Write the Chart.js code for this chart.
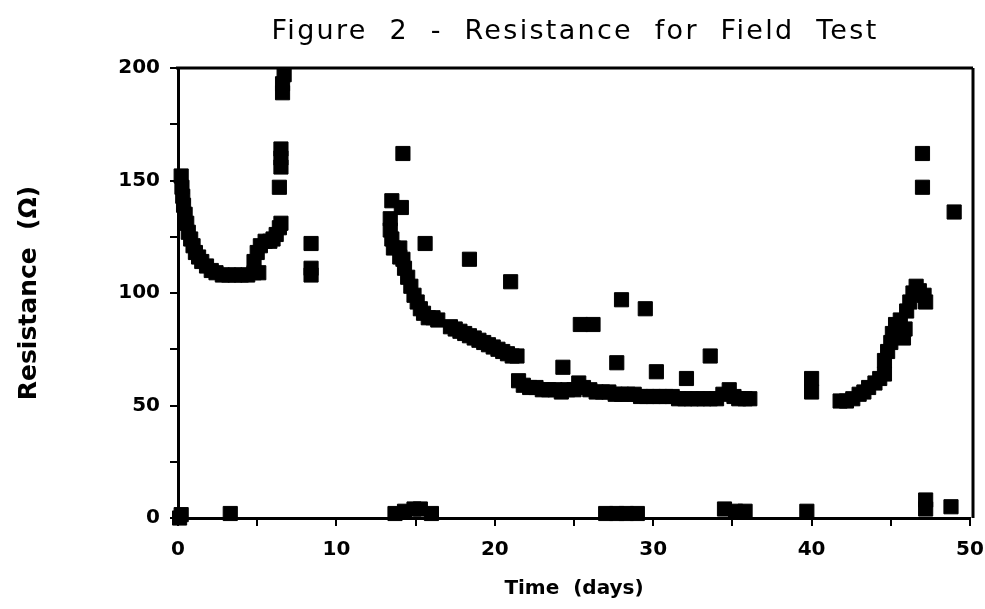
<!DOCTYPE html>
<html><head><meta charset="utf-8">
<script src="https://cdn.jsdelivr.net/npm/chart.js@4.4.1/dist/chart.umd.min.js"></script>
<style>html,body{margin:0;padding:0;background:#fff}#wrap{width:985px;height:609px}</style>
</head><body><div id="wrap"><canvas id="c" width="985" height="609"></canvas></div>
<script>
const chartTitle = 'Figure  2  -  Resistance  for  Field  Test';
const xTitle = 'Time  (days)';
const yTitle = 'Resistance  (\u03A9)';
const xTickValues = [0, 10, 20, 30, 40, 50];
const yTickValues = [0, 50, 100, 150, 200];

// Time (days) and resistance (ohm)
const days = [
  0.1, 0.2,
  0.2, 0.25, 0.3, 0.35, 0.45, 0.55, 0.65, 0.8, 0.95, 1.1, 1.3, 1.5, 1.8, 2.1, 2.4, 2.8, 3.2, 3.6, 4.0, 4.4, 4.8, 5.1,
  3.3,
  4.8, 5.0, 5.2, 5.5, 5.8, 6.0, 6.2, 6.4, 6.5,
  6.4, 6.5, 6.5, 6.5, 6.6, 6.6, 6.7,
  8.4, 8.4, 8.4,
  14.2, 13.5, 14.1, 13.4, 13.4, 13.5, 13.6, 14.0, 14.0,
  14.2, 14.3, 14.5, 14.7, 14.9, 15.1, 15.3, 15.5, 15.8, 16.1, 16.4,
  15.6, 18.4, 21.0,
  17.2, 17.5, 17.8, 18.1, 18.4, 18.7, 19.0, 19.3, 19.6, 19.9, 20.2, 20.5, 20.8, 21.1, 21.4,
  13.7, 14.3, 14.9, 15.3, 16.0,
  21.5, 21.8, 22.2, 22.6, 23.0, 23.4, 23.8, 24.2, 24.6, 25.0, 25.3, 25.6, 26.0, 26.4, 26.8, 27.2, 27.6, 28.0, 28.4, 28.8,
  29.2, 29.6, 30.0, 30.4, 30.8, 31.2, 31.6, 32.0, 32.4, 32.8, 33.2, 33.6, 34.0, 34.4, 34.8, 35.1, 35.4, 35.8, 36.1,
  24.3, 25.4, 26.2, 28.0, 29.5, 27.7, 30.2, 32.1, 33.6,
  27.0, 27.7, 28.3, 29.0, 34.5, 35.2, 35.8, 39.7, 47.2, 47.2, 48.8,
  40.0, 40.0,
  41.8, 42.2, 42.6, 43.0, 43.3, 43.6, 44.0, 44.3, 44.6,
  44.6, 44.8, 45.0, 45.1, 45.3, 45.6, 45.9, 45.8,
  46.0, 46.2, 46.4, 46.6, 46.8, 47.1, 47.2,
  47.0, 47.0, 49.0
];
const ohms = [
  0, 1.5,
  152, 147, 143, 139, 135, 131, 127, 124, 121, 118, 116, 114, 112, 110, 109, 108, 108, 108, 108, 108, 109, 109,
  2,
  114, 118, 121, 123, 123, 124, 126, 129, 131,
  147, 156, 160, 164, 189, 193, 197,
  122, 111, 108,
  162, 141, 138, 133, 128, 124, 120, 120, 116,
  115, 111, 107, 103, 99, 96, 93, 91, 89, 89, 88,
  122, 115, 105,
  85, 84, 83, 82, 81, 80, 79, 78, 77, 76, 75, 74, 73, 72, 72,
  2, 3, 4, 4, 2,
  61, 59, 58, 58, 57, 57, 57, 56, 57, 57, 60, 58, 57, 56, 56, 56, 55, 55, 55, 55,
  54, 54, 54, 54, 54, 54, 53, 53, 53, 53, 53, 53, 53, 55, 57, 54, 53, 53, 53,
  67, 86, 86, 97, 93, 69, 65, 62, 72,
  2, 2, 2, 2, 4, 3, 3, 3, 8, 4, 5,
  62, 56,
  52, 52, 53, 55, 56, 58, 60, 62, 64,
  70, 74, 78, 82, 86, 88, 84, 80,
  92, 96, 100, 103, 101, 99, 96,
  162, 147, 136
];

const points = days.map((d, i) => ({x: d, y: ohms[i]}));

const framePlugin = {
  id: 'frame',
  beforeDraw(chart) {
    const ctx = chart.ctx;
    ctx.save();
    ctx.fillStyle = '#fff';
    ctx.fillRect(0, 0, chart.width, chart.height);
    ctx.restore();
  },
  afterDraw(chart) {
    const {ctx, chartArea: a} = chart;
    ctx.save();
    ctx.strokeStyle = '#000';
    ctx.lineWidth = 3;
    ctx.beginPath();
    ctx.moveTo(a.left - 2, a.top);
    ctx.lineTo(a.right + 3, a.top);
    ctx.moveTo(a.right + 3, a.top);
    ctx.lineTo(a.right + 3, a.bottom);
    ctx.stroke();
    // chart title, centred over the plot area
    ctx.fillStyle = '#000';
    ctx.font = 'normal 27px "DejaVu Sans"';
    if ('letterSpacing' in ctx) ctx.letterSpacing = '2.3px';
    ctx.textAlign = 'center';
    ctx.textBaseline = 'middle';
    ctx.fillText(chartTitle, (a.left + a.right) / 2 + 1, 32);
    ctx.restore();
  }
};

const tickFont = {family: 'DejaVu Sans', weight: 'bold', size: 20};
const axisFont = {family: 'DejaVu Sans', weight: 'bold', size: 20};

new Chart(document.getElementById('c'), {
  type: 'scatter',
  data: {
    datasets: [{
      data: points,
      pointStyle: 'rect',
      pointRadius: 10,
      backgroundColor: '#000',
      borderColor: '#000',
      borderWidth: 1,
      clip: false
    }]
  },
  options: {
    responsive: false,
    animation: false,
    devicePixelRatio: 1,
    layout: {padding: {left: 0, right: 15, top: 68, bottom: 0}},
    plugins: {
      legend: {display: false},
      tooltip: {enabled: false},
      title: {display: false}
    },
    scales: {
      x: {
        type: 'linear', min: 0, max: 50,
        afterFit(s) { s.height = 91; s.paddingLeft = 0; s.paddingRight = 0; },
        afterBuildTicks(s) { s.ticks = []; for (let v = 0; v <= 50; v += 5) s.ticks.push({value: v}); },
        ticks: {
          autoSkip: false, maxRotation: 0, color: '#000', font: tickFont, padding: 12,
          callback: v => xTickValues.includes(v) ? String(v) : ''
        },
        grid: {display: true, drawOnChartArea: false, drawTicks: true, tickLength: 8, color: '#000', lineWidth: 2},
        border: {display: true, color: '#000', width: 3},
        title: {display: true, text: xTitle, color: '#000', font: axisFont, padding: {top: 0, bottom: 8}}
      },
      y: {
        type: 'linear', min: 0, max: 200,
        afterFit(s) { s.width = 178; s.paddingTop = 0; s.paddingBottom = 0; },
        afterBuildTicks(s) { s.ticks = []; for (let v = 0; v <= 200; v += 25) s.ticks.push({value: v}); },
        ticks: {
          autoSkip: false, color: '#000', font: tickFont, padding: 10,
          callback: v => yTickValues.includes(v) ? String(v) : ''
        },
        grid: {display: true, drawOnChartArea: false, drawTicks: true, tickLength: 8, color: '#000', lineWidth: 2},
        border: {display: true, color: '#000', width: 3},
        title: {display: true, text: yTitle, color: '#000', font: {family: 'DejaVu Sans', weight: 'bold', size: 25}, padding: {top: 14, bottom: 0}}
      }
    }
  },
  plugins: [framePlugin]
});
</script></body></html>
